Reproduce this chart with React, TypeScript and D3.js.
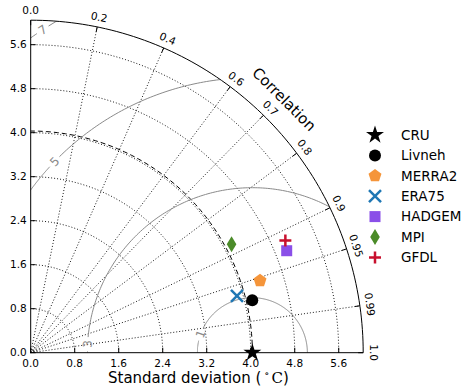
import * as d3 from "d3";

// Taylor diagram: model vs CRU reference
const models = ["CRU", "Livneh", "MERRA2", "ERA75", "HADGEM", "MPI", "GFDL"];
const stdDevs = [4.03, 4.14, 4.37, 3.89, 5.01, 4.15, 5.06];
const correlations = [1.0, 0.973, 0.954, 0.964, 0.929, 0.88, 0.915];
const colors = ["#000000", "#000000", "#f5953a", "#1f77b4", "#8a4fe8", "#4b8b29", "#c8102e"];
const markers = ["star", "circle", "pentagon", "x", "square", "diamond", "plus"];

const stdTicks = [0, 0.8, 1.6, 2.4, 3.2, 4.0, 4.8, 5.6];
const corrTicks = [0, 0.2, 0.4, 0.6, 0.7, 0.8, 0.9, 0.95, 0.99, 1.0];
const rmsLevels = [1, 3, 5, 7];
const rmsLabelAngles = [160, 177, 136, 123]; // degrees around the reference point

const refStd = stdDevs[0];
const smax = 1.5 * refStd;

const W = 465;
const H = 387;
const ox = 30.7;
const oy = 352.7;
const R = 332.5;
const FONT = "DejaVu Sans, sans-serif";

const r = d3.scaleLinear().domain([0, smax]).range([0, R]);

// polar (std, angle) -> pixel
const toPx = (s: number, th: number): [number, number] => [ox + r(s) * Math.cos(th), oy - r(s) * Math.sin(th)];
const line = d3.line<[number, number]>();

function stdArc(s: number) {
  const pts = d3.range(0, 91).map((d) => toPx(s, (d * Math.PI) / 180));
  return line(pts) as string;
}

function rmsArc(level: number, from: number, to: number) {
  const n = 200;
  const pts = d3.range(n + 1).map((i) => {
    const phi = from + ((to - from) * i) / n;
    const x = refStd + level * Math.cos(phi);
    const y = level * Math.sin(phi);
    return [ox + r(x), oy - r(y)] as [number, number];
  });
  return line(pts) as string;
}

function Marker({ type, x, y, color }: { type: string; x: number; y: number; color: string }) {
  if (type === "star") {
    return <path transform={`translate(${x},${y})`} d={d3.symbol(d3.symbolStar, 100)() as string} fill={color} />;
  }
  if (type === "circle") return <circle cx={x} cy={y} r={6} fill={color} />;
  if (type === "pentagon") {
    const pts = d3.range(5).map((i) => {
      const a = -Math.PI / 2 + (i * 2 * Math.PI) / 5;
      return [x + 6.8 * Math.cos(a), y + 6.8 * Math.sin(a)] as [number, number];
    });
    return <path d={d3.line().curve(d3.curveLinearClosed)(pts) as string} fill={color} />;
  }
  if (type === "square") return <rect x={x - 5.5} y={y - 5.5} width={11} height={11} fill={color} />;
  if (type === "diamond") {
    return <path d={`M${x},${y - 8}L${x + 4.8},${y}L${x},${y + 8}L${x - 4.8},${y}Z`} fill={color} />;
  }
  const s = 6;
  if (type === "x") {
    return (
      <path d={`M${x - s},${y - s}L${x + s},${y + s}M${x - s},${y + s}L${x + s},${y - s}`} stroke={color} strokeWidth={2.5} />
    );
  }
  return <path d={`M${x - s},${y}L${x + s},${y}M${x},${y - s}L${x},${y + s}`} stroke={color} strokeWidth={2.5} />;
}

export default function App() {
  const sector = `M${ox},${oy}L${ox + R},${oy}A${R},${R} 0 0 0 ${ox},${oy - R}Z`;
  const fmtCorr = (c: number) => (c % 1 === 0 ? c.toFixed(1) : String(c));

  return (
    <svg width={W} height={H} style={{ position: "absolute", left: 0, top: 0, background: "#fff" }} fontFamily={FONT}>
      <defs>
        <clipPath id="sector">
          <path d={sector} />
        </clipPath>
      </defs>

      {/* std dev grid arcs */}
      {stdTicks.slice(1).map((s) => (
        <path key={"g" + s} d={stdArc(s)} fill="none" stroke="#000" strokeWidth={0.9} strokeDasharray="1 2" />
      ))}
      {/* correlation grid lines */}
      {corrTicks.slice(1, -1).map((c) => {
        const [x, y] = toPx(smax, Math.acos(c));
        return <line key={"c" + c} x1={ox} y1={oy} x2={x} y2={y} stroke="#000" strokeWidth={0.9} strokeDasharray="1 2" />;
      })}

      {/* reference std arc */}
      <path d={stdArc(refStd)} fill="none" stroke="#000" strokeWidth={1} strokeDasharray="5 3" />

      {/* centred RMS contours */}
      <g clipPath="url(#sector)">
        {rmsLevels.map((lv, i) => {
          const phi = (rmsLabelAngles[i] * Math.PI) / 180;
          const gap = 7 / r(lv);
          return (
            <g key={"rms" + lv}>
              <path d={rmsArc(lv, 0, phi - gap)} fill="none" stroke="#8a8a8a" strokeWidth={1} />
              <path d={rmsArc(lv, phi + gap, Math.PI)} fill="none" stroke="#8a8a8a" strokeWidth={1} />
            </g>
          );
        })}
      </g>
      {rmsLevels.map((lv, i) => {
        const phi = (rmsLabelAngles[i] * Math.PI) / 180;
        const x = ox + r(refStd + lv * Math.cos(phi));
        const y = oy - r(lv * Math.sin(phi));
        let rot = -(rmsLabelAngles[i] + 90);
        while (rot <= -90) rot += 180;
        while (rot > 90) rot -= 180;
        return (
          <text
            key={"rl" + lv}
            transform={`translate(${x},${y}) rotate(${rot})`}
            textAnchor="middle"
            dy="0.35em"
            fontSize={12}
            fill="#8a8a8a"
          >
            {lv}
          </text>
        );
      })}

      {/* axes frame */}
      <line x1={ox} y1={oy} x2={ox} y2={oy - R} stroke="#000" strokeWidth={1} />
      <line x1={ox} y1={oy} x2={ox + R} y2={oy} stroke="#000" strokeWidth={1} />
      <path d={stdArc(smax)} fill="none" stroke="#000" strokeWidth={1} />

      {/* std ticks, left and bottom */}
      {stdTicks.map((s) => (
        <g key={"t" + s}>
          <line x1={ox} x2={ox + 5} y1={oy - r(s)} y2={oy - r(s)} stroke="#000" />
          <text x={ox - 4} y={oy - r(s)} dy="0.35em" textAnchor="end" fontSize={10.5}>
            {s.toFixed(1)}
          </text>
          <line x1={ox + r(s)} x2={ox + r(s)} y1={oy} y2={oy - 5} stroke="#000" />
          <text x={ox + r(s)} y={oy + 14} textAnchor="middle" fontSize={10.5}>
            {s.toFixed(1)}
          </text>
        </g>
      ))}

      {/* correlation ticks on arc */}
      {corrTicks.map((c) => {
        const th = Math.acos(c);
        const [x1, y1] = toPx(smax, th);
        const x2 = ox + (R - 5) * Math.cos(th);
        const y2 = oy - (R - 5) * Math.sin(th);
        const lx = ox + (R + 10) * Math.cos(th);
        const ly = oy - (R + 10) * Math.sin(th);
        const rot = 90 - (th * 180) / Math.PI;
        return (
          <g key={"ct" + c}>
            <line x1={x1} y1={y1} x2={x2} y2={y2} stroke="#000" />
            <text transform={`translate(${lx},${ly}) rotate(${rot})`} textAnchor="middle" dy="0.35em" fontSize={10.5}>
              {fmtCorr(c)}
            </text>
          </g>
        );
      })}

      {/* axis titles */}
      <text
        transform={`translate(${ox + (R + 26) * Math.cos(Math.PI / 4)},${oy - (R + 26) * Math.sin(Math.PI / 4)}) rotate(45)`}
        textAnchor="middle"
        dy="0.35em"
        fontSize={15}
      >
        Correlation
      </text>
      <text x={108} y={383} textAnchor="start" fontSize={15}>
        Standard deviation (
        <tspan fontFamily="DejaVu Serif, serif" fontSize={10.5} dx={3} dy={-6}>
          ∘
        </tspan>
        <tspan fontFamily="DejaVu Serif, serif" dx={2} dy={6}>
          C
        </tspan>
        )
      </text>

      {/* data points */}
      {models.map((m, i) => {
        const [x, y] = toPx(stdDevs[i], Math.acos(correlations[i]));
        return <Marker key={"p" + m} type={markers[i]} x={x} y={y} color={colors[i]} />;
      })}

      {/* legend */}
      {models.map((m, i) => {
        const y = 135 + i * 20.4;
        return (
          <g key={"l" + m}>
            <Marker type={markers[i]} x={375} y={y} color={colors[i]} />
            <text x={401} y={y} dy="0.35em" fontSize={13.5}>
              {m}
            </text>
          </g>
        );
      })}
    </svg>
  );
}
